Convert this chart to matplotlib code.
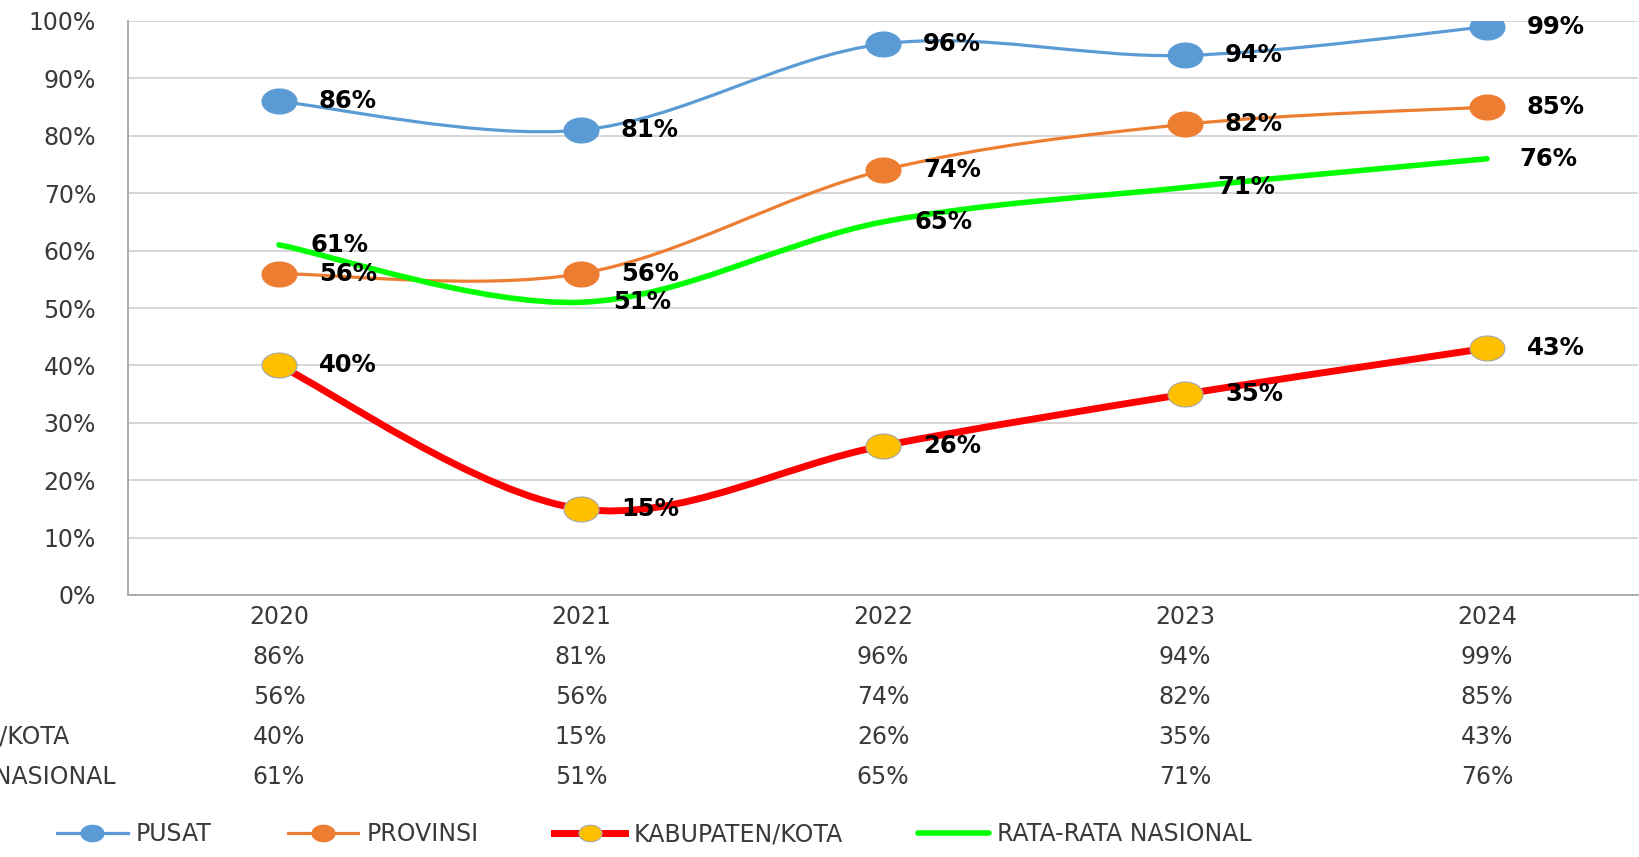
import numpy as np
import matplotlib
matplotlib.use("Agg")
import matplotlib.pyplot as plt
from matplotlib.path import Path
from matplotlib.patches import PathPatch
from matplotlib.lines import Line2D
import matplotlib.transforms as mtransforms

# ---------------- data ----------------
years = ["2020", "2021", "2022", "2023", "2024"]
series_names = ["PUSAT", "PROVINSI", "KABUPATEN/KOTA", "RATA-RATA NASIONAL"]
pusat = [86, 81, 96, 94, 99]
provinsi = [56, 56, 74, 82, 85]
kabkota = [40, 15, 26, 35, 43]
rata_nasional = [61, 51, 65, 71, 76]
y_ticks = [0, 10, 20, 30, 40, 50, 60, 70, 80, 90, 100]
y_tick_labels = ["0%", "10%", "20%", "30%", "40%", "50%", "60%", "70%", "80%", "90%", "100%"]

# ---------------- style ----------------
plt.rcParams['font.family'] = ['DejaVu Sans']
W, H = 1640, 857
fig = plt.figure(figsize=(W / 100, H / 100), dpi=100)
ax = fig.add_axes([128 / W, 1 - 595 / H, 1510 / W, 574 / H])

TXT = '#3a3a3a'
FS = 17

x = np.arange(len(years))
ax.set_xlim(-0.5, len(years) - 0.5)
ax.set_ylim(0, 100)

# ellipse marker (stretched circle)
t = np.linspace(0, 2 * np.pi, 60)
ell = Path(np.column_stack([np.cos(t), np.sin(t) / 1.4]), closed=True)


def smooth_path(xs, ys):
    n = len(xs)
    verts = [(xs[0], ys[0])]
    codes = [Path.MOVETO]
    for i in range(n - 1):
        xp, yp = (xs[i - 1], ys[i - 1]) if i > 0 else (xs[i], ys[i])
        xn, yn = (xs[i + 2], ys[i + 2]) if i + 2 < n else (xs[i + 1], ys[i + 1])
        c1 = (xs[i] + (xs[i + 1] - xp) / 6.0, ys[i] + (ys[i + 1] - yp) / 6.0)
        c2 = (xs[i + 1] - (xn - xs[i]) / 6.0, ys[i + 1] - (yn - ys[i]) / 6.0)
        verts += [c1, c2, (xs[i + 1], ys[i + 1])]
        codes += [Path.CURVE4] * 3
    return Path(verts, codes)


specs = [
    (pusat, '#5B9BD5', 2.3, '#5B9BD5', '#5B9BD5', True),
    (provinsi, '#ED7D31', 2.3, '#ED7D31', '#ED7D31', True),
    (kabkota, '#FF0000', 5.0, '#FFC000', '#A5A5A5', True),
    (rata_nasional, '#00FF00', 4.0, None, None, False),
]

handles = []
for k, (vals, col, lw, mfc, mec, has_marker) in enumerate(specs):
    z = 3 + k
    patch = PathPatch(smooth_path(x, vals), fill=False, edgecolor=col, lw=lw,
                      capstyle='round', joinstyle='round', zorder=z)
    ax.add_patch(patch)
    if has_marker:
        ax.plot(x, vals, linestyle='none', marker=ell, markersize=25.2,
                markerfacecolor=mfc, markeredgecolor=mec, markeredgewidth=0.8,
                zorder=z + 0.1)
        handles.append(Line2D([], [], color=col, lw=lw, marker=ell, markersize=25.2,
                              markerfacecolor=mfc, markeredgecolor=mec, markeredgewidth=0.8))
    else:
        handles.append(Line2D([], [], color=col, lw=lw, solid_capstyle='round'))
    off = 28.8 if has_marker else 23
    for xi, v in zip(x, vals):
        ax.annotate(f"{v}%", (xi, v), xytext=(off, 0), textcoords='offset points',
                    ha='left', va='center', fontsize=17.5, fontweight='bold',
                    color='black', zorder=20)

# axes styling
ax.set_yticks(y_ticks)
ax.set_yticklabels(y_tick_labels)
ax.set_xticks(x)
ax.set_xticklabels(years)
ax.tick_params(axis='y', length=0, pad=23, labelsize=FS, labelcolor=TXT)
ax.tick_params(axis='x', length=0, pad=7, labelsize=FS, labelcolor=TXT)
ax.grid(axis='y', color='#D0D0D0', lw=1.2, zorder=0)
ax.set_axisbelow(True)
for s in ['top', 'right']:
    ax.spines[s].set_visible(False)
for s in ['left', 'bottom']:
    ax.spines[s].set_color('#A6A6A6')
    ax.spines[s].set_linewidth(1.3)

# data table below chart
row_values = [pusat, provinsi, kabkota, rata_nasional]
row_y_px = [657, 697, 737, 777]
blend = mtransforms.blended_transform_factory(ax.transData, fig.transFigure)
for vals, ypx in zip(row_values, row_y_px):
    for xi, v in zip(x, vals):
        fig.text(xi, 1 - ypx / H, f"{v}%", transform=blend, ha='center', va='center',
                 fontsize=FS, color=TXT)

# row labels (left aligned, partly cut off at the left edge as in the original)
renderer = fig.canvas.get_renderer()
probe = fig.text(0, 0, series_names[2], fontsize=FS)
wkab = probe.get_window_extent(renderer).width
probe.remove()
left_px = 70 - wkab
for name, ypx in zip(series_names, row_y_px):
    fig.text(left_px / W, 1 - ypx / H, name, ha='left', va='center', fontsize=FS, color=TXT)

# legend
fig.legend(handles, series_names, loc='center left', bbox_to_anchor=(57 / W, 1 - 834 / H),
           ncol=4, frameon=False, fontsize=FS, labelcolor=TXT, markerscale=0.66,
           handlelength=3.0, handletextpad=0.35, columnspacing=3.2,
           borderpad=0, borderaxespad=0)

fig.savefig("out.png", dpi=100)
